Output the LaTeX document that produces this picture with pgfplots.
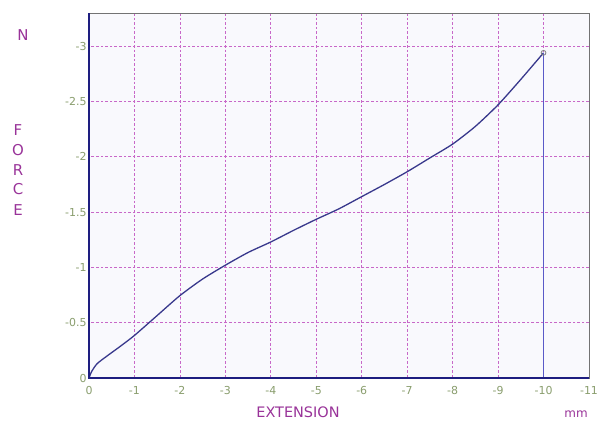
\documentclass[border=0pt]{standalone}
\usepackage{pgfplots}
\pgfplotsset{compat=1.18}
\usepackage{fontspec}
\setmainfont{DejaVu Sans}
\definecolor{gridc}{HTML}{C868C8}
\definecolor{tickc}{HTML}{8A9E6E}
\definecolor{labc}{HTML}{993399}
\definecolor{navy}{HTML}{1E1E80}
\definecolor{curvec}{HTML}{38388C}
\definecolor{vlinec}{HTML}{5A5AC8}
\definecolor{bgc}{HTML}{F9F9FD}
\begin{document}
\begin{tikzpicture}[x=1bp,y=1bp]
\useasboundingbox[fill=white] (0,0) rectangle (599,420);
\begin{axis}[
  at={(89bp,42bp)}, anchor=south west,
  scale only axis, width=500bp, height=365bp,
  x dir=reverse, y dir=reverse,
  xmin=-11, xmax=0, ymin=-3.3, ymax=0,
  axis background/.style={fill=bgc},
  axis line style={draw=gray!90!black, line width=0.9pt},
  xtick={0,-1,-2,-3,-4,-5,-6,-7,-8,-9,-10,-11},
  xticklabels={0,-1,-2,-3,-4,-5,-6,-7,-8,-9,-10,-11},
  ytick={0,-0.5,-1,-1.5,-2,-2.5,-3},
  yticklabels={0,-0.5,-1,-1.5,-2,-2.5,-3},
  major tick length=0pt,
  tick label style={font=\fontsize{11}{13}\selectfont, text=tickc},
  xticklabel style={yshift=-5bp},
  yticklabel style={xshift=1bp},
  grid=major,
  major grid style={draw=gridc, line width=0.8pt, dash pattern=on 2.6pt off 2pt},
  clip=false,
]
\addplot[curvec, line width=1.3pt, smooth, tension=0.4] coordinates {
(0,0) (-0.06,-0.06) (-0.18,-0.13) (-0.4,-0.2) (-0.7,-0.29) (-1,-0.385) (-1.5,-0.565)
(-2,-0.745) (-2.5,-0.895) (-3,-1.02) (-3.5,-1.135) (-4,-1.23) (-4.5,-1.335)
(-5,-1.435) (-5.5,-1.53) (-6,-1.64) (-6.5,-1.75) (-7,-1.865) (-7.5,-1.99)
(-8,-2.115) (-8.5,-2.275) (-9,-2.47) (-9.5,-2.7) (-10,-2.94)};
\addplot[vlinec, line width=1.1pt] coordinates {(-10,-2.94) (-10,0)};
\addplot[only marks, mark=o, mark size=2.4pt, gray, mark options={line width=0.8pt, fill=gray!20}] coordinates {(-10,-2.94)};
\draw[navy, line width=2pt] (rel axis cs:0,1) -- (rel axis cs:0,0) -- (rel axis cs:1,0);
\end{axis}
\begin{scope}[font=\fontsize{15}{17}\selectfont, text=labc]
\node at (23,385) {N};
\node at (18,290) {F};
\node at (18,270) {O};
\node at (18,250) {R};
\node at (18,231) {C};
\node at (18,210) {E};
\node[anchor=base] at (298,2.5) {\fontsize{14.5}{16}\selectfont EXTENSION};
\node[anchor=base] at (576,2.5) {\fontsize{12}{14}\selectfont mm};
\end{scope}
\end{tikzpicture}
\end{document}
